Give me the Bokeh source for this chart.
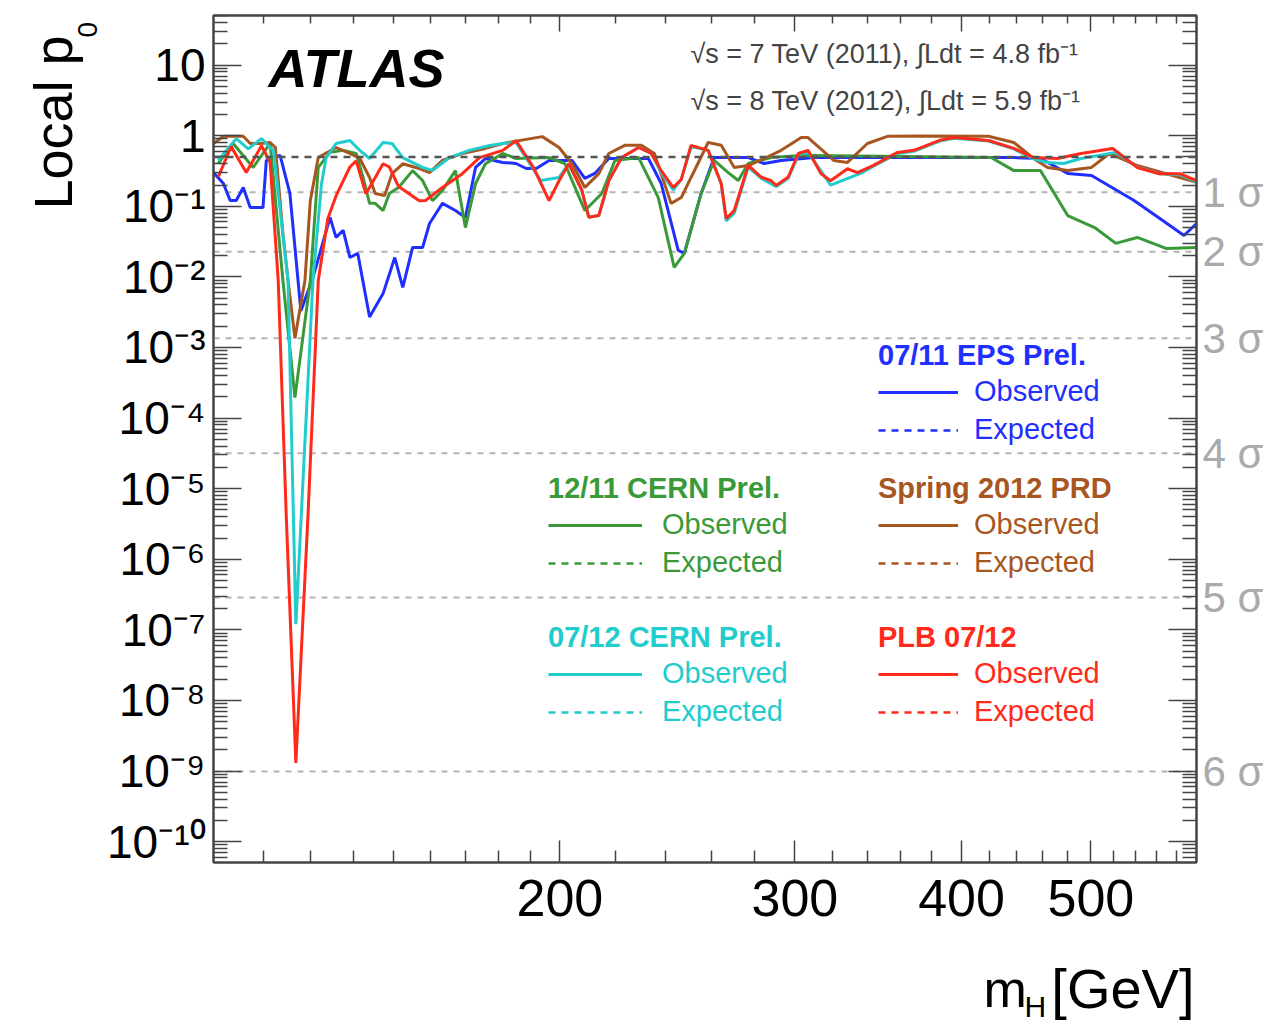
from math import pi

from bokeh.embed import file_html
from bokeh.layouts import column, row
from bokeh.models import (CustomJSTickFormatter, FixedTicker, Label, Legend,
                          LegendItem, LogAxis, Span)
from bokeh.plotting import figure
from bokeh.resources import INLINE

FONT = "Liberation Sans"

# ---------------------------------------------------------------------------
# Local p0 versus Higgs mass for successive ATLAS combinations (observed)
# ---------------------------------------------------------------------------
mass_eps = [110.0, 111.9, 113.2, 114.4, 115.8, 117.2, 119.8, 120.5, 123.4, 125.5,
            127.9, 130.6, 134.5, 135.9, 137.6, 139.2, 141.1, 144.0, 147.4, 150.4,
            152.5, 155.1, 157.8, 159.7, 163.3, 167.0, 169.9, 172.9, 175.9, 181.2,
            185.4, 188.7, 192.0, 196.3, 204.2, 208.8, 212.4, 217.6, 233.0, 238.2,
            245.3, 247.9, 255.2, 261.0, 276.8, 284.5, 293.0, 310.1, 437.8, 458.4,
            480.4, 500.6, 538.7, 566.0, 587.2, 600.0]
p0_eps = [0.30, 0.21, 0.121, 0.121, 0.185, 0.096, 0.096, 0.446, 0.525, 0.152,
          0.0033, 0.0098, 0.0695, 0.0362, 0.0455, 0.0188, 0.0215, 0.0027, 0.0058, 0.0188,
          0.0071, 0.0261, 0.0261, 0.057, 0.11, 0.087, 0.0695, 0.355, 0.475, 0.418,
          0.404, 0.343, 0.343, 0.446, 0.446, 0.248, 0.292, 0.475, 0.475, 0.21,
          0.0237, 0.0215, 0.152, 0.49, 0.49, 0.404, 0.446, 0.49, 0.49, 0.475,
          0.292, 0.273, 0.121, 0.063, 0.0386, 0.057]

mass_cern11 = [110.9, 113.8, 117.8, 119.8, 121.3, 124.0, 126.6, 130.0, 131.8, 134.5,
               137.6, 140.7, 142.4, 144.0, 145.4, 147.4, 149.0, 151.4, 155.1, 157.8,
               160.5, 163.3, 167.0, 169.9, 172.9, 175.9, 181.2, 185.4, 196.3, 201.7,
               208.8, 215.0, 219.9, 229.1, 237.0, 243.6, 247.9, 255.2, 261.0, 267.4,
               272.1, 276.8, 288.0, 303.3, 310.1, 420.9, 437.8, 458.4, 480.4, 503.3,
               522.0, 541.7, 569.2, 600.0]
p0_cern11 = [0.404, 0.775, 0.355, 0.56, 0.775, 0.0089, 1.95e-4, 0.0089, 0.355, 0.58,
             0.62, 0.56, 0.256, 0.11, 0.11, 0.087, 0.152, 0.185, 0.32, 0.232,
             0.12, 0.168, 0.32, 0.05, 0.21, 0.40, 0.56, 0.475, 0.49, 0.404,
             0.087, 0.152, 0.446, 0.49, 0.133, 0.0136, 0.0215, 0.152, 0.446, 0.30,
             0.232, 0.404, 0.49, 0.525, 0.525, 0.49, 0.32, 0.32, 0.074, 0.05,
             0.0298, 0.0362, 0.0253, 0.026]

mass_prd = [110.0, 111.9, 115.8, 117.2, 119.3, 121.3, 122.4, 124.0, 125.1, 126.6,
            128.8, 130.0, 131.8, 135.9, 139.2, 141.6, 144.0, 145.4, 147.8, 149.7,
            152.5, 156.9, 159.7, 163.3, 169.0, 175.9, 181.2, 194.0, 199.7, 204.2,
            208.8, 213.9, 217.6, 223.7, 230.2, 235.4, 242.3, 246.6, 250.8, 258.3,
            264.2, 270.2, 276.8, 284.5, 293.0, 303.3, 306.9, 320.8, 328.5, 340.0,
            352.0, 373.0, 419.0, 437.8, 453.0, 464.0, 480.4, 500.6, 516.3, 541.7,
            600.0]
p0_prd = [0.775, 0.98, 0.98, 0.775, 0.775, 0.80, 0.68, 0.041, 0.0089, 0.00135,
          0.0089, 0.12, 0.49, 0.68, 0.56, 0.475, 0.256, 0.152, 0.142, 0.29,
          0.40, 0.343, 0.30, 0.446, 0.56, 0.66, 0.775, 0.97, 0.68, 0.40,
          0.185, 0.29, 0.56, 0.73, 0.73, 0.56, 0.11, 0.133, 0.256, 0.80,
          0.73, 0.355, 0.378, 0.475, 0.62, 0.94, 0.94, 0.446, 0.418, 0.775,
          0.98, 0.99, 0.98, 0.80, 0.475, 0.355, 0.322, 0.355, 0.56, 0.378,
          0.218]

mass_cern12 = [110.9, 114.4, 116.8, 119.5, 121.3, 122.0, 125.1, 126.8, 130.6, 132.5,
               133.6, 135.9, 139.2, 141.6, 144.0, 147.4, 149.7, 152.5, 157.8, 160.5,
               165.3, 171.0, 177.2, 181.2, 185.4, 193.5, 199.7, 203.1, 207.7, 210.2,
               213.9, 217.6, 222.5, 229.1, 234.2, 238.2, 243.2, 246.6, 250.8, 258.3,
               264.2, 266.5, 270.2, 276.8, 283.0, 290.5, 296.6, 301.8, 306.9, 319.1,
               336.0, 343.6, 358.2, 368.4, 386.0, 395.0, 419.0, 437.8, 453.0, 464.0,
               477.1, 491.6, 507.0, 522.0, 541.7, 561.9, 583.0, 600.0]
p0_cern12 = [0.446, 0.91, 0.65, 0.91, 0.68, 0.62, 0.0089, 1.2e-7, 0.0089, 0.20,
             0.49, 0.775, 0.855, 0.62, 0.475, 0.80, 0.775, 0.49, 0.355, 0.322,
             0.49, 0.62, 0.726, 0.775, 0.80, 0.232, 0.256, 0.40, 0.17, 0.07,
             0.074, 0.23, 0.49, 0.68, 0.56, 0.30, 0.17, 0.24, 0.70, 0.62,
             0.21, 0.062, 0.08, 0.36, 0.25, 0.19, 0.25, 0.53, 0.58, 0.20,
             0.292, 0.37, 0.56, 0.60, 0.85, 0.92, 0.84, 0.65, 0.47, 0.418,
             0.404, 0.475, 0.525, 0.58, 0.36, 0.29, 0.28, 0.22]

mass_plb = [110.9, 113.4, 116.4, 119.5, 121.3, 123.0, 124.7, 126.8, 129.5, 131.8,
            134.0, 135.9, 139.2, 140.7, 143.1, 147.4, 149.0, 151.4, 156.9, 158.6,
            163.3, 169.0, 174.1, 181.2, 185.4, 191.0, 196.3, 199.7, 203.1, 207.7,
            210.2, 213.9, 217.6, 222.5, 229.1, 234.2, 238.2, 243.2, 246.6, 250.8,
            258.3, 264.2, 266.5, 270.2, 276.8, 283.0, 288.0, 290.5, 296.6, 301.8,
            306.9, 313.8, 319.1, 328.5, 334.2, 343.6, 358.2, 368.4, 386.0, 395.0,
            419.0, 437.8, 453.0, 472.1, 491.6, 519.2, 541.7, 561.9, 583.0, 600.0]
p0_plb = [0.26, 0.70, 0.30, 0.72, 0.42, 0.0089, 4.4e-6, 1.3e-9, 4.4e-6, 0.0089,
          0.067, 0.14, 0.36, 0.44, 0.15, 0.40, 0.36, 0.19, 0.12, 0.121,
          0.185, 0.29, 0.49, 0.62, 0.85, 0.36, 0.12, 0.23, 0.40, 0.17,
          0.07, 0.074, 0.23, 0.49, 0.68, 0.56, 0.32, 0.185, 0.24, 0.73,
          0.62, 0.21, 0.067, 0.087, 0.38, 0.26, 0.23, 0.197, 0.26, 0.56,
          0.62, 0.29, 0.23, 0.34, 0.30, 0.38, 0.58, 0.62, 0.87, 0.94,
          0.855, 0.66, 0.49, 0.475, 0.56, 0.66, 0.355, 0.29, 0.29, 0.23]

# one-sided p-values of the significance reference lines
sigma_levels = [1, 2, 3, 4, 5, 6]
sigma_p0 = [0.1587, 0.02275, 1.350e-3, 3.167e-5, 2.867e-7, 9.866e-10]
sigma_labels = [f"{s} σ" for s in sigma_levels]
p0_no_excess = 0.5

# axis ticks and their labels
x_ticks = [200, 300, 400, 500]
x_tick_labels = ["200", "300", "400", "500"]
y_ticks = [1e-10, 1e-9, 1e-8, 1e-7, 1e-6, 1e-5, 1e-4, 1e-3, 1e-2, 1e-1, 1.0, 10.0]
y_tick_labels = ["10⁻¹⁰", "10⁻⁹", "10⁻⁸", "10⁻⁷", "10⁻⁶", "10⁻⁵", "10⁻⁴",
                 "10⁻³", "10⁻²", "10⁻¹", "1", "10"]

series = [
    ("07/11 EPS Prel.", "#1f2fff", mass_eps, p0_eps),
    ("12/11 CERN Prel.", "#3a9a3a", mass_cern11, p0_cern11),
    ("Spring 2012 PRD", "#a8561f", mass_prd, p0_prd),
    ("07/12 CERN Prel.", "#22cccc", mass_cern12, p0_cern12),
    ("PLB 07/12", "#ff2a1a", mass_plb, p0_plb),
]

LEFT_W = 104          # strip holding the vertical axis title
BOTTOM_H = 70         # strip holding the horizontal axis title
TOTAL_W, TOTAL_H = 1279, 1025

# ---------------------------------------------------------------------------
p = figure(width=TOTAL_W - LEFT_W, height=TOTAL_H - BOTTOM_H,
           x_axis_type="log", y_axis_type="log",
           x_range=(110, 600), y_range=(5.07e-11, 50.4),
           output_backend="svg", toolbar_location=None,
           min_border_left=213 - LEFT_W, min_border_right=83,
           min_border_top=15, min_border_bottom=93)
p.xgrid.visible = False
p.ygrid.visible = False
p.outline_line_color = "#444444"
p.outline_line_width = 2
p.background_fill_color = "white"
p.border_fill_color = "white"

x_minor = list(range(120, 200, 10)) + [m for m in range(220, 600, 20) if m not in x_ticks]
y_minor = [k * 10.0 ** e for e in range(-11, 2) for k in range(2, 10)]
x_ticker = FixedTicker(ticks=x_ticks, minor_ticks=x_minor)
y_ticker = FixedTicker(ticks=y_ticks, minor_ticks=y_minor)


def style_axis(ax, major_len, minor_len):
    ax.axis_line_color = "#444444"
    ax.axis_line_width = 2
    ax.major_tick_line_color = "#444444"
    ax.minor_tick_line_color = "#444444"
    ax.major_tick_line_width = 1.5
    ax.minor_tick_line_width = 1.5
    ax.major_tick_in = major_len
    ax.major_tick_out = 0
    ax.minor_tick_in = minor_len
    ax.minor_tick_out = 0
    ax.major_label_text_font = FONT
    ax.major_label_text_color = "black"


xb = p.xaxis[0]
xb.ticker = x_ticker
xb.major_label_overrides = dict(zip(x_ticks, x_tick_labels))
style_axis(xb, 22, 12)
xb.major_label_text_font_size = "52px"
xb.major_label_standoff = 17

yl = p.yaxis[0]
yl.ticker = y_ticker
yl.major_label_overrides = dict(zip(y_ticks, y_tick_labels))
style_axis(yl, 28, 14)
yl.major_label_text_font_size = "46px"
yl.major_label_standoff = 8

blank = CustomJSTickFormatter(code="return ''")
xt = LogAxis(ticker=x_ticker, formatter=blank)
style_axis(xt, 16, 8)
xt.major_label_text_font_size = "0px"
xt.major_label_text_color = None
xt.major_label_standoff = 0
p.add_layout(xt, "above")

yr = LogAxis(ticker=y_ticker, formatter=blank)
style_axis(yr, 28, 14)
yr.major_label_text_font_size = "0px"
yr.major_label_text_color = None
yr.major_label_standoff = 0
p.add_layout(yr, "right")

# significance labels, one per reference line, beside the right frame edge
ys = LogAxis(ticker=FixedTicker(ticks=sigma_p0, minor_ticks=[]),
             major_label_overrides=dict(zip(sigma_p0, sigma_labels)))
ys.axis_line_color = None
ys.major_tick_line_color = None
ys.minor_tick_line_color = None
ys.major_tick_in = 0
ys.major_tick_out = 0
ys.major_label_text_font = FONT
ys.major_label_text_font_size = "42px"
ys.major_label_text_color = "#aaaaaa"
ys.major_label_standoff = 6
p.add_layout(ys, "right")

# significance reference lines
for pv in sigma_p0:
    p.add_layout(Span(location=pv, dimension="width", line_color="#b4b4b4",
                      line_width=2, line_dash="6 6", level="underlay"))

# observed curves, plus legend handles for the expected ones
renderers = {}
for title, color, m, p0 in series:
    obs = p.line(m, p0, line_color=color, line_width=3)
    exp = p.line([m[0]], [float("nan")], line_color=color, line_width=2.5,
                 line_dash="7 6")
    renderers[title] = (obs, exp)

p.add_layout(Span(location=p0_no_excess, dimension="width", line_color="#555555",
                  line_width=2.5, line_dash="7 6"))

legend_places = {
    "07/11 EPS Prel.": ((665, 416), 80, 16),
    "12/11 CERN Prel.": ((335, 283), 94, 20),
    "Spring 2012 PRD": ((665, 283), 80, 16),
    "07/12 CERN Prel.": ((335, 134), 94, 20),
    "PLB 07/12": ((665, 134), 80, 16),
}
for title, color, _, _ in series:
    loc, gw, so = legend_places[title]
    obs, exp = renderers[title]
    leg = Legend(items=[LegendItem(label="Observed", renderers=[obs]),
                        LegendItem(label="Expected", renderers=[exp])],
                 location=loc, title=title,
                 title_text_color=color, title_text_font_style="bold",
                 title_text_font_size="29px", title_text_font=FONT, title_standoff=3,
                 label_text_color=color, label_text_font_size="29px", label_text_font=FONT,
                 glyph_width=gw, glyph_height=30, label_height=30, label_standoff=so,
                 spacing=5, padding=0, margin=0,
                 background_fill_alpha=0, border_line_alpha=0)
    p.add_layout(leg)

# experiment tag and data-set description
p.add_layout(Label(x=55, y=795, x_units="screen", y_units="screen", text="ATLAS",
                   text_font=FONT, text_font_style="bold italic", text_font_size="54px",
                   text_color="black", text_baseline="middle"))
p.add_layout(Label(x=477, y=809, x_units="screen", y_units="screen",
                   text="√s = 7 TeV (2011),  ∫Ldt = 4.8 fb⁻¹",
                   text_font=FONT, text_font_size="27px", text_color="#444444",
                   text_baseline="middle"))
p.add_layout(Label(x=477, y=762, x_units="screen", y_units="screen",
                   text="√s = 8 TeV (2012),  ∫Ldt = 5.9 fb⁻¹",
                   text_font=FONT, text_font_size="27px", text_color="#444444",
                   text_baseline="middle"))


def strip(width, height):
    s = figure(width=width, height=height, x_range=(0, width), y_range=(0, height),
               output_backend="svg", toolbar_location=None,
               x_axis_location=None, y_axis_location=None, min_border=0)
    s.xgrid.visible = False
    s.ygrid.visible = False
    s.outline_line_color = None
    s.background_fill_color = "white"
    s.border_fill_color = "white"
    return s


# vertical axis title: "Local p" with a subscript 0
left = strip(LEFT_W, TOTAL_H)
left.add_layout(Label(x=52, y=816, x_units="screen", y_units="screen", angle=pi / 2,
                      text="Local p", text_font=FONT, text_font_size="54px",
                      text_color="black", text_align="left", text_baseline="middle"))
left.add_layout(Label(x=87, y=988, x_units="screen", y_units="screen", angle=pi / 2,
                      text="0", text_font=FONT, text_font_size="28px",
                      text_color="black", text_align="left", text_baseline="middle"))

# horizontal axis title: "m" with a subscript H, then the unit
# (this strip's frame lines up with the plot frame above it)
bottom = strip(TOTAL_W - LEFT_W, BOTTOM_H)
bottom.add_layout(Label(x=770, y=37, x_units="screen", y_units="screen",
                        text="m", text_font=FONT, text_font_size="52px",
                        text_color="black", text_align="left", text_baseline="middle"))
bottom.add_layout(Label(x=811, y=19, x_units="screen", y_units="screen",
                        text="H", text_font=FONT, text_font_size="30px",
                        text_color="black", text_align="left", text_baseline="middle"))
bottom.add_layout(Label(x=981, y=37, x_units="screen", y_units="screen",
                        text="[GeV]", text_font=FONT, text_font_size="56px",
                        text_color="black", text_align="right", text_baseline="middle"))

layout = row(left, column(p, bottom))
open("out.html", "w").write(file_html(layout, INLINE))
